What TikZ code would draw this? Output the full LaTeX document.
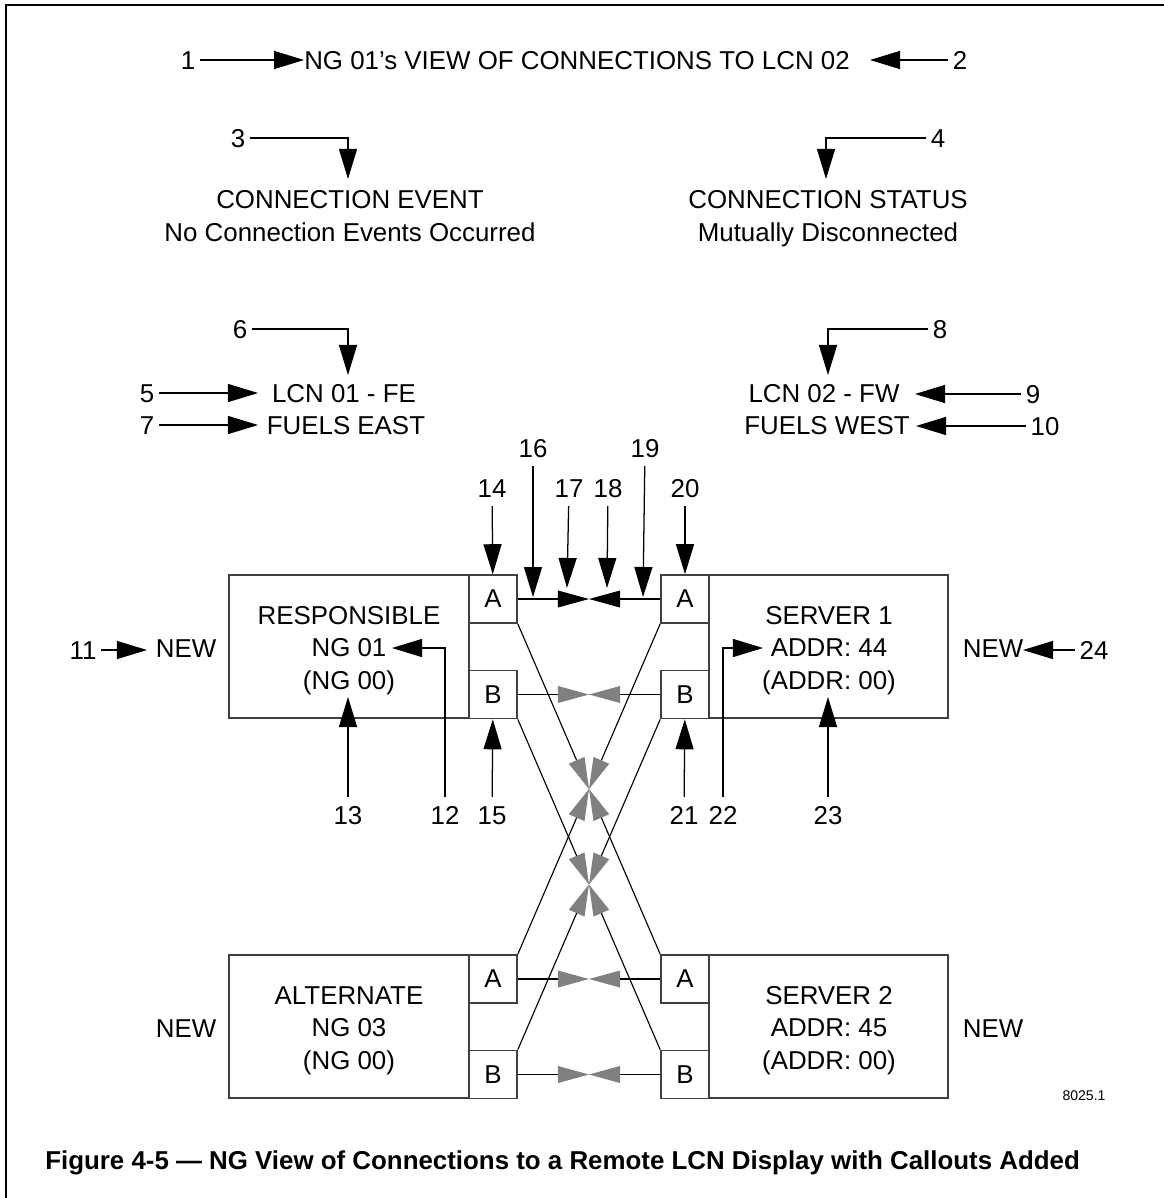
\documentclass[tikz,border=0pt]{standalone}
\usepackage{fontspec}
\setmainfont{Liberation Sans}
\usetikzlibrary{arrows.meta,positioning,calc}
\definecolor{linkgray}{RGB}{128,128,128}
\definecolor{boxline}{RGB}{64,64,64}
\tikzset{
    txt/.style={inner sep=0pt, text height=13.2pt, text depth=0pt,
        font=\fontsize{18.4}{23.1}\selectfont},
    num/.style={txt, inner xsep=3pt, inner ysep=6pt},
    multi/.style={inner sep=0pt, align=center, font=\fontsize{18.4}{23.1}\selectfont},
    callout/.style={line width=0.9pt, -{Triangle[length=0.75cm,width=0.45cm]}},
    link/.style={line width=0.8pt, -{Triangle[length=0.78cm,width=0.42cm]}},
    glink/.style={line width=0.8pt, -{Triangle[length=0.78cm,width=0.42cm,color=linkgray]}},
    unit/.style={draw=boxline, line width=1.1pt, inner sep=0pt, minimum height=3.575cm},
    port/.style={draw=boxline, line width=1.1pt, inner sep=0pt, minimum width=1.2cm,
        minimum height=1.2cm, font=\fontsize{18.4}{23.1}\selectfont}
}

\begin{document}
\begin{tikzpicture}[x=0.025cm, y=-0.025cm]
    \useasboundingbox (0,0) rectangle (1164,1198);
    % page frame, top and left edge only
    \draw[line width=2pt] (1164,5) -- (6,5) -- (6,1198);

    % title line
    \node[txt] (title) at (577,60) {NG 01’s VIEW OF CONNECTIONS TO LCN 02};
    \node[num] (n1) at (188,60) {1};
    \node[num] (n2) at (960,60) {2};
    \coordinate (t2) at (870,60);
    \draw[callout] (n1) -- (title);
    \draw[callout] (n2) -- (t2);

    % event and status
    \node[txt] (evt) at (350,199) {CONNECTION EVENT};
    \node[txt] (evtx) at (350,232) {No Connection Events Occurred};
    \node[txt] (sts) at (828,199) {CONNECTION STATUS};
    \node[txt] (stsx) at (828,232) {Mutually Disconnected};
    \node[num] (n3) at (238,138) {3};
    \node[num] (n4) at (938,138) {4};
    \coordinate (t3) at (348,179);
    \coordinate (t4) at (826,179);
    \draw[callout] (n3) -| (t3);
    \draw[callout] (n4) -| (t4);

    % LCN names
    \node[txt] (lcn1) at (344,393) {LCN 01 - FE};
    \node[txt] (fuel1) at (346,425) {FUELS EAST};
    \node[txt] (lcn2) at (824,393) {LCN 02 - FW};
    \node[txt] (fuel2) at (827,425) {FUELS WEST};
    \node[num] (n5) at (147,393) {5};
    \node[num] (n6) at (240,329) {6};
    \node[num] (n7) at (147,425) {7};
    \node[num] (n8) at (940,329) {8};
    \node[num] (n9) at (1033,394) {9};
    \node[num] (n10) at (1045,426) {10};
    \coordinate (t5) at (258,393);
    \coordinate (t6) at (348,375);
    \coordinate (t7) at (258,425);
    \coordinate (t8) at (828,375);
    \coordinate (t9) at (915,394);
    \coordinate (t10) at (916,426);
    \draw[callout] (n5) -- (t5);
    \draw[callout] (n6) -| (t6);
    \draw[callout] (n7) -- (t7);
    \draw[callout] (n8) -| (t8);
    \draw[callout] (n9) -- (t9);
    \draw[callout] (n10) -- (t10);

    % upper units
    \node[unit, minimum width=6cm] (resp) at (349,646.5) {};
    \node[unit, minimum width=5.975cm] (srv1) at (828.5,646.5) {};
    \node[multi] (resptxt) at (349,650.5) {RESPONSIBLE\\NG 01\\(NG 00)};
    \node[multi] (srv1txt) at (829,650.5) {SERVER 1\\ADDR: 44\\(ADDR: 00)};
    \node[port] (rA) at (493,599) {A};
    \node[port] (rB) at (493,694.5) {B};
    \node[port] (sA) at (685,599) {A};
    \node[port] (sB) at (685,694.5) {B};
    \node[txt] (new1) at (186,648) {NEW};
    \node[txt] (new2) at (993,648) {NEW};

    % lower units
    \node[unit, minimum width=6cm] (alt) at (349,1026.5) {};
    \node[unit, minimum width=5.975cm] (srv2) at (828.5,1026.5) {};
    \node[multi] (alttxt) at (349,1030.5) {ALTERNATE\\NG 03\\(NG 00)};
    \node[multi] (srv2txt) at (829,1030.5) {SERVER 2\\ADDR: 45\\(ADDR: 00)};
    \node[port] (aA) at (493,979) {A};
    \node[port] (aB) at (493,1074.5) {B};
    \node[port] (tA) at (685,979) {A};
    \node[port] (tB) at (685,1074.5) {B};
    \node[txt] (new3) at (186,1028) {NEW};
    \node[txt] (new4) at (993,1028) {NEW};

    % links, tips meet half way
    \coordinate (xA) at (589,599);
    \coordinate (xB) at (589,694.5);
    \coordinate (yA) at (589,979);
    \coordinate (yB) at (589,1074.5);
    \coordinate (x1) at (589,789);
    \coordinate (x2) at (589,884.5);
    \draw[link] (rA) -- (xA);
    \draw[link] (sA) -- (xA);
    \draw[glink] (rB) -- (xB);
    \draw[glink] (sB) -- (xB);
    \draw[glink] (aA) -- (yA);
    \draw[glink] (tA) -- (yA);
    \draw[glink] (aB) -- (yB);
    \draw[glink] (tB) -- (yB);
    \draw[glink] (rA.south east) -- (x1);
    \draw[glink] (sA.south west) -- (x1);
    \draw[glink] (aA.north east) -- (x1);
    \draw[glink] (tA.north west) -- (x1);
    \draw[glink] (rB.south east) -- (x2);
    \draw[glink] (sB.south west) -- (x2);
    \draw[glink] (aB.north east) -- (x2);
    \draw[glink] (tB.north west) -- (x2);

    % callouts round the upper units
    \node[num] (n11) at (83,650) {11};
    \node[num] (n12) at (445,815) {12};
    \node[num] (n13) at (348,815) {13};
    \node[num] (n14) at (492,488) {14};
    \node[num] (n15) at (492,815) {15};
    \node[num] (n16) at (533,448) {16};
    \node[num] (n17) at (569,488) {17};
    \node[num] (n18) at (608,488) {18};
    \node[num] (n19) at (645,448) {19};
    \node[num] (n20) at (685,488) {20};
    \node[num] (n21) at (684,815) {21};
    \node[num] (n22) at (723,815) {22};
    \node[num] (n23) at (828,815) {23};
    \node[num] (n24) at (1094,650) {24};
    \coordinate (t11) at (147,650);
    \coordinate (t12) at (392,648);
    \coordinate (t13) at (348,697);
    \coordinate (t16) at (533,597);
    \coordinate (t17) at (567,588);
    \coordinate (t18) at (607,588);
    \coordinate (t19) at (643,597);
    \coordinate (t22) at (763,648);
    \coordinate (t23) at (828,697);
    \coordinate (t24) at (1023,650);
    \draw[callout] (n11) -- (t11);
    \draw[callout] (n12) |- (t12);
    \draw[callout] (n13) -- (t13);
    \draw[callout] (n14) -- (rA);
    \draw[callout] (n15) -- (rB);
    \draw[callout] (n16) -- (t16);
    \draw[callout] (n17) -- (t17);
    \draw[callout] (n18) -- (t18);
    \draw[callout] (n19) -- (t19);
    \draw[callout] (n20) -- (sA);
    \draw[callout] (n21) -- (sB);
    \draw[callout] (n22) |- (t22);
    \draw[callout] (n23) -- (t23);
    \draw[callout] (n24) -- (t24);

    % drawing number and caption
    \node[inner sep=0pt, font=\fontsize{10}{12}\selectfont] (dwg) at (1084,1096) {8025.1};
    \node[txt, anchor=west, font=\fontsize{18.4}{23.1}\selectfont\bfseries] (caption) at (45,1160)
        {Figure 4-5 — NG View of Connections to a Remote LCN Display with Callouts Added};
\end{tikzpicture}
\end{document}
